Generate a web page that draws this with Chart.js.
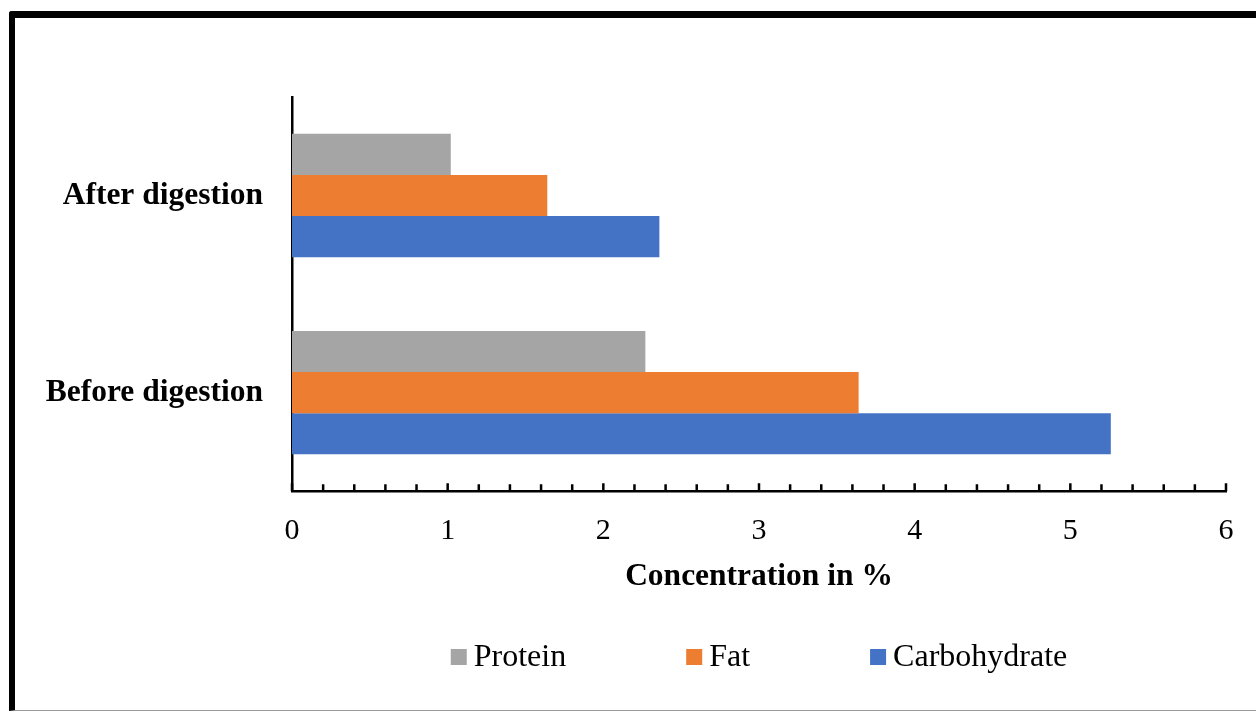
<!DOCTYPE html>
<html>
<head>
<meta charset="utf-8">
<title>Concentration in %</title>
<script src="https://cdn.jsdelivr.net/npm/chart.js@4.4.1/dist/chart.umd.min.js"></script>
<style>
  html, body { margin: 0; padding: 0; background: #fff; }
  #wrap { position: relative; width: 1256px; height: 712px; overflow: hidden; background: #fff; }
  #frame {
    position: absolute; left: 9px; top: 11px;
    width: 1300px; height: 692px;
    border-top: 7px solid #000; border-left: 6px solid #000; border-bottom: 1px solid #999;
    border-top-left-radius: 3px;
  }
  #c { position: absolute; left: 0; top: 0; }
</style>
</head>
<body>
<div id="wrap">
  <div id="frame"></div>
  <canvas id="c" width="1256" height="712"></canvas>
</div>
<script>
// Categories and values (concentration in %)
const categories = ['After digestion', 'Before digestion'];
const seriesNames = ['Protein', 'Fat', 'Carbohydrate'];
const protein = [1.02, 2.27];
const fat = [1.64, 3.64];
const carbohydrate = [2.36, 5.26];
const seriesColors = ['#A5A5A5', '#ED7D31', '#4472C4'];
const xMin = 0, xMax = 6, xStep = 0.2;

const FONT = '"Liberation Serif", "Times New Roman", serif';

// Short tick marks pointing up into the plot from the value axis
const innerTicks = {
  id: 'innerTicks',
  afterDatasetsDraw(chart) {
    const xs = chart.scales.x;
    const ctx = chart.ctx;
    ctx.save();
    ctx.strokeStyle = '#000';
    ctx.lineWidth = 2.5;
    ctx.beginPath();
    xs.ticks.forEach(t => {
      const px = xs.getPixelForValue(t.value);
      const major = Math.abs(t.value - Math.round(t.value)) < 1e-6;
      ctx.moveTo(px, xs.top);
      ctx.lineTo(px, xs.top - (major ? 8 : 7));
    });
    ctx.stroke();
    ctx.restore();
  }
};

// Legend row under the axis title
const bottomLegend = {
  id: 'bottomLegend',
  afterDraw(chart) {
    const ctx = chart.ctx;
    const area = chart.chartArea;
    const box = 16, gap = 7, spacing = 120;
    ctx.save();
    ctx.font = '32px ' + FONT;
    ctx.textBaseline = 'middle';
    ctx.textAlign = 'left';
    const items = chart.data.datasets.map(ds => {
      const w = ctx.measureText(ds.label).width;
      return { text: ds.label, color: ds.backgroundColor, w: box + gap + w };
    });
    const total = items.reduce((s, it) => s + it.w, 0) + spacing * (items.length - 1);
    let x = (area.left + area.right) / 2 - total / 2;
    const y = 657;
    items.forEach(it => {
      ctx.fillStyle = it.color;
      ctx.fillRect(x, y - box / 2, box, box);
      ctx.fillStyle = '#000';
      ctx.fillText(it.text, x + box + gap, y + 1);
      x += it.w + spacing;
    });
    ctx.restore();
  }
};

const datasets = [protein, fat, carbohydrate].map((vals, i) => ({
  label: seriesNames[i],
  data: vals,
  backgroundColor: seriesColors[i],
  borderWidth: 0,
  categoryPercentage: 0.626,
  barPercentage: 1.0
}));

new Chart(document.getElementById('c'), {
  type: 'bar',
  data: { labels: categories, datasets },
  options: {
    indexAxis: 'y',
    responsive: false,
    animation: false,
    devicePixelRatio: 1,
    layout: { padding: { top: 97, left: 0, right: 30, bottom: 116 } },
    plugins: {
      legend: { display: false },
      tooltip: { enabled: false }
    },
    scales: {
      x: {
        type: 'linear',
        min: xMin,
        max: xMax,
        grid: { display: false, drawTicks: false },
        border: { display: true, color: '#000', width: 2.5 },
        ticks: {
          stepSize: xStep,
          autoSkip: false,
          maxRotation: 0,
          padding: 22,
          color: '#000',
          font: { family: FONT, size: 30 },
          callback: v => Math.abs(v - Math.round(v)) < 1e-6 ? String(Math.round(v)) : ''
        },
        title: {
          display: true,
          text: 'Concentration in %',
          color: '#000',
          font: { family: FONT, size: 31.5, weight: 'bold' },
          padding: { top: -13, bottom: 0 }
        }
      },
      y: {
        grid: { display: false, drawTicks: false },
        border: { display: true, color: '#000', width: 2.5 },
        ticks: {
          padding: 29,
          color: '#000',
          font: { family: FONT, size: 31.5, weight: 'bold' }
        },
        afterFit(scale) { scale.width = 292; }
      }
    }
  },
  plugins: [innerTicks, bottomLegend]
});
</script>
</body>
</html>
